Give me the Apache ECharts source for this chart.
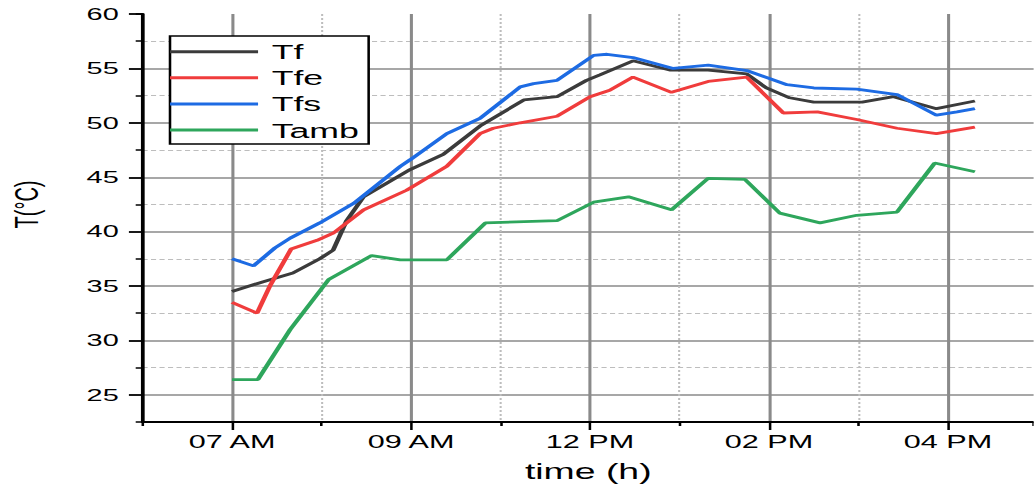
<!DOCTYPE html>
<html>
<head>
<meta charset="utf-8">
<script src="https://cdn.jsdelivr.net/npm/echarts@6/dist/echarts.min.js"></script>
<style>
  html, body { margin: 0; padding: 0; background: #fff; overflow: hidden; }
  /* the reference image is horizontally stretched; draw at native width and stretch */
  #c { width: 608.235px; height: 491px; transform: scaleX(1.7); transform-origin: 0 0; }
</style>
</head>
<body>
<div id="c"></div>
<script>
// ---- data (x in axis units: 0 = 07 AM, 2 = 09 AM, 4 = 12 PM, 6 = 02 PM, 8 = 04 PM) ----
const xTickLabels = ['07 AM', '09 AM', '12 PM', '02 PM', '04 PM'];
const xTickValues = [0, 2, 4, 6, 8];
const seriesNames = ['Tf', 'Tfe', 'Tfs', 'Tamb'];

const tfData = [[0,34.5],[0.35,35.4],[0.68,36.2],[0.98,37.5],[1.13,38.3],[1.28,41.0],[1.47,43.2],[1.99,45.7],
  [2.36,47.1],[2.77,49.7],[3.26,52.1],[3.63,52.4],[3.96,53.9],[4.11,54.4],[4.48,55.7],[4.89,54.85],
  [5.32,54.85],[5.75,54.5],[5.97,53.2],[6.23,52.3],[6.50,51.9],[7.04,51.9],[7.39,52.4],[7.87,51.3],[8.30,52.0]];

const tfeData = [[0,33.5],[0.28,32.5],[0.42,34.95],[0.66,38.4],[0.95,39.2],[1.13,39.85],[1.47,42.0],[1.95,43.8],
  [2.40,46.0],[2.77,49.0],[2.92,49.5],[3.22,50.0],[3.63,50.6],[4.00,52.4],[4.22,53.0],[4.48,54.2],[4.91,52.8],
  [5.32,53.8],[5.75,54.2],[6.16,50.9],[6.54,51.0],[6.98,50.3],[7.43,49.5],[7.87,49.0],[8.30,49.6]];

const tfsData = [[0,37.5],[0.24,36.85],[0.48,38.5],[0.65,39.4],[0.98,40.8],[1.36,42.6],[1.88,46.0],[1.99,46.6],
  [2.40,49.0],[2.77,50.4],[3.22,53.3],[3.37,53.6],[3.63,53.9],[4.04,56.2],[4.19,56.3],[4.48,56.0],[4.93,55.0],
  [5.32,55.3],[5.75,54.8],[6.20,53.5],[6.50,53.2],[6.98,53.1],[7.43,52.6],[7.87,50.7],[8.10,51.0],[8.30,51.3]];

const tambData = [[0,26.4],[0.29,26.4],[0.65,31.0],[1.08,35.6],[1.56,37.8],[1.88,37.4],[2.40,37.4],[2.83,40.8],
  [3.63,41.0],[4.04,42.7],[4.43,43.2],[4.91,42.0],[5.32,44.9],[5.73,44.8],[6.12,41.7],[6.57,40.8],[6.98,41.5],
  [7.43,41.8],[7.85,46.3],[8.30,45.5]];

const seriesColors = ['#3b3b3b', '#f03c3c', '#1d6be3', '#2ea65c'];
const seriesData = [tfData, tfeData, tfsData, tambData];

// ---- chart ----
const FONT = '"Liberation Sans", Arial, sans-serif';
const chart = echarts.init(document.getElementById('c'), null, { renderer: 'svg', width: 608.235, height: 491 });

const unitPx = 89.5 / 1.7;           // pixels per x unit (unscaled)
const plotLeft = 142.5 / 1.7;        // y axis position (unscaled)
const x07 = plotLeft + unitPx;       // position of 07 AM

const labelFor = v => {
  const i = xTickValues.indexOf(Math.round(v * 1000) / 1000);
  return i >= 0 ? xTickLabels[i] : '';
};

const option = {
  animation: false,
  backgroundColor: '#fff',
  grid: [
    // 0: main plot (data, minor grid, axis lines)
    { left: plotLeft, right: 0, top: 14, height: 408, outerBoundsMode: 'none', containLabel: false },
    // 1: major vertical grid lines, x ticks & labels
    { left: x07, width: 9.5 * unitPx, top: 14, height: 408, outerBoundsMode: 'none', containLabel: false },
    // 2: major horizontal grid lines, y ticks & labels
    { left: plotLeft, right: 0, top: 14, height: 381, outerBoundsMode: 'none', containLabel: false }
  ],
  xAxis: [
    {
      gridIndex: 0, type: 'value', min: -1, max: 8.96, interval: 2,
      axisLine: { show: true, onZero: false, lineStyle: { color: '#000', width: 2 } },
      axisTick: { show: true, inside: false, length: 4, lineStyle: { color: '#000', width: 1.5 } },
      axisLabel: { show: false },
      splitLine: { show: true, showMinLine: false, showMaxLine: false,
        lineStyle: { color: '#bdbdbd', width: 1.2, type: [2, 2] } },
      name: 'time (h)', nameLocation: 'middle', nameGap: 38,
      nameTextStyle: { fontFamily: FONT, fontSize: 22, color: '#000' }
    },
    {
      gridIndex: 1, type: 'value', min: 0, max: 9.5, interval: 2,
      axisLine: { show: false, onZero: false },
      axisTick: { show: true, inside: false, length: 8, lineStyle: { color: '#000', width: 1.5 } },
      axisLabel: { show: true, margin: 11, formatter: labelFor,
        fontFamily: FONT, fontSize: 18, color: '#000' },
      splitLine: { show: true, showMinLine: true, showMaxLine: false,
        lineStyle: { color: '#8a8a8a', width: 1.8, type: 'solid' } }
    },
    { gridIndex: 2, type: 'value', min: -1, max: 8.96, show: false }
  ],
  yAxis: [
    {
      gridIndex: 0, type: 'value', min: 22.5, max: 60, interval: 5,
      axisLine: { show: true, onZero: false, lineStyle: { color: '#000', width: 2.2 } },
      axisTick: { show: true, inside: false, length: 4, lineStyle: { color: '#000', width: 1.5 } },
      axisLabel: { show: false },
      splitLine: { show: true, showMinLine: false, showMaxLine: false,
        lineStyle: { color: '#bdbdbd', width: 1.2, type: [3, 2] } }
    },
    { gridIndex: 1, type: 'value', min: 22.5, max: 60, show: false },
    {
      gridIndex: 2, type: 'value', min: 25, max: 60, interval: 5,
      axisLine: { show: false, onZero: false },
      axisTick: { show: true, inside: false, length: 8, lineStyle: { color: '#000', width: 1.8 } },
      axisLabel: { show: true, margin: 14, fontFamily: FONT, fontSize: 17, color: '#000' },
      splitLine: { show: true, showMinLine: true, showMaxLine: false,
        lineStyle: { color: '#8a8a8a', width: 1.6, type: 'solid' } },
      name: 'T(°C)', nameLocation: 'middle', nameRotate: 90, nameGap: 58,
      nameTextStyle: { fontFamily: FONT, fontSize: 20, color: '#000' }
    }
  ],
  legend: {
    orient: 'vertical', left: 100, top: 36,
    data: seriesNames,
    icon: 'rect', itemWidth: 51.8, itemHeight: 3, itemGap: 5.1,
    padding: [5.2, 5.7, 3.5, 0],
    backgroundColor: '#fff', borderColor: '#000', borderWidth: 1.5,
    textStyle: { fontFamily: FONT, fontSize: 21, lineHeight: 21, color: '#000', padding: [0, 0, 0, 3] }
  },
  series: seriesNames.map((n, i) => ({
    name: n, type: 'line', xAxisIndex: 0, yAxisIndex: 0,
    data: seriesData[i], color: seriesColors[i],
    showSymbol: false, symbol: 'none', smooth: false,
    lineStyle: { width: 2.8, color: seriesColors[i] }
  }))
};
chart.setOption(option);
</script>
</body>
</html>
